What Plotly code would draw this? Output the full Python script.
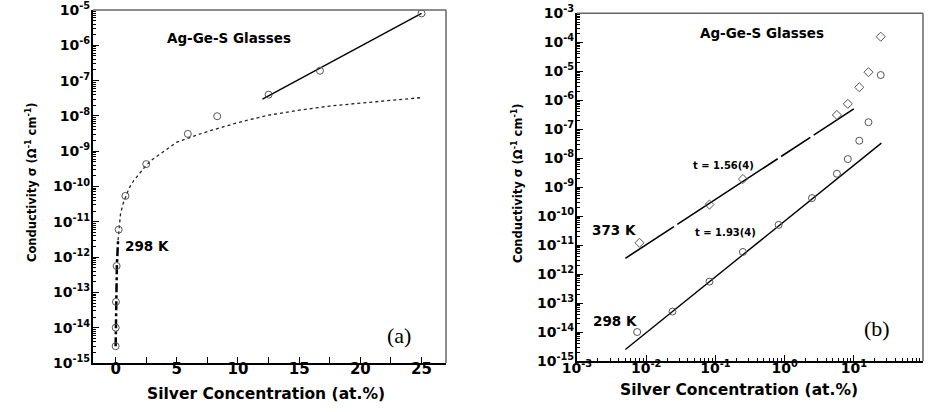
import plotly.graph_objects as go

# ---------------- data ----------------
# panel (a): 298 K, linear x
a_x = [0.0, 0.008, 0.025, 0.08, 0.25, 0.8, 2.5, 5.9, 8.3, 12.5, 16.7, 25.0]
a_y = [3e-15, 1e-14, 5.4e-14, 5.6e-13, 6e-12, 5.4e-11, 4.3e-10, 3.1e-9, 9.8e-9, 4e-8, 1.9e-7, 8e-6]

a_fit_low_x = [0.0, 0.01, 0.02, 0.05, 0.1, 0.2]
a_fit_low_y = [3e-15, 1e-14, 4e-14, 2e-13, 5.6e-13, 3e-12]
a_fit_x = [0.2, 0.3, 0.4, 0.6, 0.8, 1.1, 1.5, 2.0, 2.5, 3.0, 3.8, 5.0, 6.0, 7.5,
           10.0, 12.5, 15.0, 17.5, 20.0, 22.5, 25.0]
a_fit_y = [3e-12, 9e-12, 1.7e-11, 3.2e-11, 5e-11, 9e-11, 1.5e-10, 2.5e-10, 4e-10, 5.8e-10,
           9e-10, 1.8e-9, 2.4e-9, 3.6e-9, 6.5e-9, 1.05e-8, 1.45e-8, 1.9e-8, 2.3e-8, 2.8e-8, 3.3e-8]

# straight solid line in (a)
a_line_x = [12.0, 25.0]
a_line_y = [3e-8, 8e-6]

# panel (b): log-log
b298_x = [0.0074, 0.024, 0.082, 0.25, 0.82, 2.49, 5.7, 8.2, 12.0, 16.3, 24.5]
b298_y = [1e-14, 5.1e-14, 5.5e-13, 5.8e-12, 5e-11, 4.2e-10, 2.9e-9, 9.3e-9, 4e-8, 1.74e-7, 7.4e-6]
b373_x = [0.008, 0.082, 0.25, 5.7, 8.2, 12.0, 16.3, 24.5]
b373_y = [1.2e-11, 2.5e-10, 1.9e-9, 3.1e-7, 7.5e-7, 2.8e-6, 9.3e-6, 1.56e-4]

b298_fit_x = [0.005, 25.0]
b298_fit_y = [2.5e-15, 3.3e-8]
b373_fit_x = [0.005, 10.0]
b373_fit_y = [3.5e-12, 5e-7]

# tick labels
a_ytick_exp = list(range(-15, -4))
a_xtick_vals = [0, 5, 10, 15, 20, 25]
b_ytick_exp = list(range(-15, -2))
b_xtick_exp = list(range(-3, 3))

FONT = "DejaVu Sans"
MK = "#555555"

fig = go.Figure()

# ---- panel (a)
fig.add_trace(go.Scatter(x=a_fit_low_x, y=a_fit_low_y, mode="lines",
                         line=dict(color="black", width=2.5, dash="dashdot"),
                         xaxis="x", yaxis="y", showlegend=False))
fig.add_trace(go.Scatter(x=a_fit_x, y=a_fit_y, mode="lines",
                         line=dict(color="#222222", width=1.3, dash="dot"),
                         xaxis="x", yaxis="y", showlegend=False))
fig.add_trace(go.Scatter(x=a_line_x, y=a_line_y, mode="lines",
                         line=dict(color="black", width=1.4),
                         xaxis="x", yaxis="y", showlegend=False))
fig.add_trace(go.Scatter(x=a_x, y=a_y, mode="markers",
                         marker=dict(symbol="circle-open", size=7, color=MK, line=dict(width=1)),
                         xaxis="x", yaxis="y", showlegend=False))

# ---- panel (b)
fig.add_trace(go.Scatter(x=b373_fit_x, y=b373_fit_y, mode="lines",
                         line=dict(color="black", width=1.6, dash="58px,4px,120px,4px,35px,4px,300px"),
                         xaxis="x2", yaxis="y2", showlegend=False))
fig.add_trace(go.Scatter(x=b298_fit_x, y=b298_fit_y, mode="lines",
                         line=dict(color="black", width=1.4),
                         xaxis="x2", yaxis="y2", showlegend=False))
fig.add_trace(go.Scatter(x=b373_x, y=b373_y, mode="markers",
                         marker=dict(symbol="diamond-open", size=7, color=MK, line=dict(width=1)),
                         xaxis="x2", yaxis="y2", showlegend=False))
fig.add_trace(go.Scatter(x=b298_x, y=b298_y, mode="markers",
                         marker=dict(symbol="circle-open", size=7, color=MK, line=dict(width=1)),
                         xaxis="x2", yaxis="y2", showlegend=False))

W, H = 932, 412
AX = (93, 446, 10, 363)       # panel (a) plot box in px: left, right, top, bottom
BX = (577, 923, 13.3, 361)    # panel (b)

def xdom(b):
    return [b[0] / W, b[1] / W]

def ydom(b):
    return [1 - b[3] / H, 1 - b[2] / H]

tickfont = dict(family=FONT, size=14, color="black")
sup = lambda e: "<b>10<sup>%d</sup></b>" % e
common = dict(showline=True, linecolor="black", linewidth=2, showgrid=False, zeroline=False,
              automargin=False, tickcolor="black")

layout = dict(
    width=W, height=H,
    margin=dict(l=0, r=0, t=0, b=0, autoexpand=False),
    paper_bgcolor="white", plot_bgcolor="white",
    font=dict(family=FONT, color="black"),
    xaxis=dict(domain=xdom(AX), range=[-1.85, 27.0], anchor="y",
               tickvals=a_xtick_vals, ticktext=["<b>%d</b>" % v for v in a_xtick_vals],
               ticks="inside", ticklen=6, tickwidth=1, ticklabelstandoff=-9,
               minor=dict(tickvals=[2.5, 7.5, 12.5, 17.5, 22.5], ticks="inside", ticklen=6,
                          tickwidth=1, tickcolor="black", showgrid=False),
               tickfont=dict(family=FONT, size=15, color="black"), **common),
    yaxis=dict(domain=ydom(AX), type="log", range=[-15, -5], anchor="x",
               tickvals=[10.0 ** e for e in a_ytick_exp], ticktext=[sup(e) for e in a_ytick_exp],
               ticks="inside", ticklen=6, tickwidth=1.2, ticklabelstandoff=-2,
               minor=dict(tickvals=[k * 10.0 ** e for e in range(-15, -5) for k in range(2, 10)],
                          ticks="inside", ticklen=3, tickwidth=0.8, tickcolor="black", showgrid=False),
               tickfont=tickfont, **common),
    xaxis2=dict(domain=xdom(BX), type="log", range=[-3, 2], anchor="y2",
                tickvals=[10.0 ** e for e in b_xtick_exp], ticktext=[sup(e) for e in b_xtick_exp],
                ticks="inside", ticklen=6, tickwidth=1, ticklabelstandoff=-7,
                minor=dict(tickvals=[k * 10.0 ** e for e in range(-3, 2) for k in range(2, 10)],
                           ticks="inside", ticklen=3, tickwidth=0.8, tickcolor="black", showgrid=False),
                tickfont=dict(family=FONT, size=14, color="black"), **common),
    yaxis2=dict(domain=ydom(BX), type="log", range=[-15, -3], anchor="x2",
                tickvals=[10.0 ** e for e in b_ytick_exp], ticktext=[sup(e) for e in b_ytick_exp],
                ticks="inside", ticklen=6, tickwidth=1.2, ticklabelstandoff=-2,
                minor=dict(tickvals=[k * 10.0 ** e for e in range(-15, -3) for k in range(2, 10)],
                           ticks="inside", ticklen=3, tickwidth=0.8, tickcolor="black", showgrid=False),
                tickfont=tickfont, **common),
)
fig.update_layout(**layout)

# top/right frame lines (thin grey), in paper coordinates
for b in (AX, BX):
    l, r = b[0] / W, b[1] / W
    t, bt = 1 - b[2] / H, 1 - b[3] / H
    fig.add_shape(type="line", xref="paper", yref="paper", x0=l, x1=r, y0=t, y1=t,
                  line=dict(color="#666666", width=1.5), layer="above")
    fig.add_shape(type="line", xref="paper", yref="paper", x0=r, x1=r, y0=bt, y1=t,
                  line=dict(color="#666666", width=1.5), layer="above")

def txt(text, x, y, xr, yr, size, bold=True, family=FONT, angle=0):
    fig.add_annotation(text=("<b>%s</b>" % text) if bold else text, x=x, y=y, xref=xr, yref=yr,
                       showarrow=False, textangle=angle, xanchor="center", yanchor="middle",
                       font=dict(family=family, size=size, color="black"))

# panel (a) texts
txt("Ag-Ge-S Glasses", 0.385, 0.9215, "x domain", "y domain", 13.5)
txt("298 K", 0.152, 0.3314, "x domain", "y domain", 13.5)
txt("(a)", 0.867, 0.0793, "x domain", "y domain", 22, bold=False, family="Liberation Serif")
# panel (b) texts
txt("Ag-Ge-S Glasses", 0.535, 0.9425, "x2 domain", "y2 domain", 13.5)
txt("t = 1.56(4)", 0.424, 0.5637, "x2 domain", "y2 domain", 10)
txt("t = 1.93(4)", 0.4286, 0.370, "x2 domain", "y2 domain", 10)
txt("373 K", 0.106, 0.3768, "x2 domain", "y2 domain", 13.5)
txt("298 K", 0.1107, 0.116, "x2 domain", "y2 domain", 13.5)
txt("(b)", 0.867, 0.094, "x2 domain", "y2 domain", 22, bold=False, family="Liberation Serif")

# axis titles
xt = "Silver Concentration (at.%)"
yt = "Conductivity σ (Ω<sup>-1</sup> cm<sup>-1</sup>)"
txt(xt, 266 / W, 1 - 394 / H, "paper", "paper", 15.5)
txt(xt, 739 / W, 1 - 390 / H, "paper", "paper", 15.5)
txt(yt, 31 / W, 1 - 182 / H, "paper", "paper", 11.5, angle=-90)
txt(yt, 517 / W, 1 - 183 / H, "paper", "paper", 11.5, angle=-90)

fig.write_html("out.html", config={"displayModeBar": False},
               post_script="document.body.style.margin='0px';document.body.style.overflow='hidden';")
